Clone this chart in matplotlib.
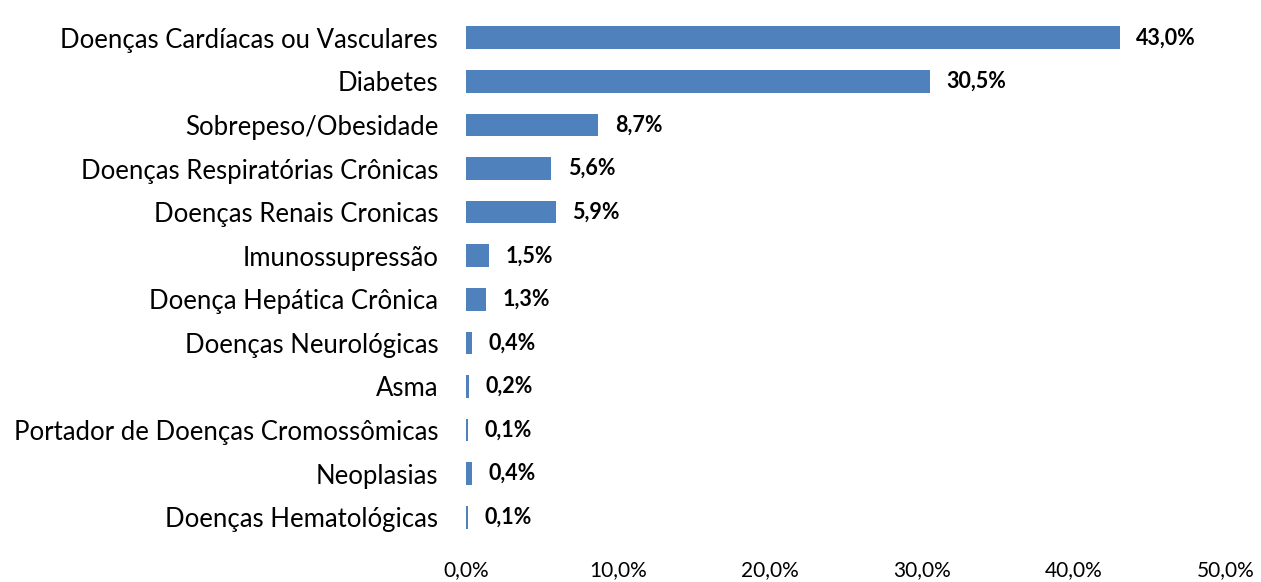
import matplotlib
matplotlib.use("Agg")
import matplotlib.pyplot as plt
from matplotlib.ticker import FuncFormatter

plt.rcParams['font.family'] = ['Lato', 'DejaVu Sans']

# comorbidades (% dos casos)
categorias = [
    "Doenças Cardíacas ou Vasculares",
    "Diabetes",
    "Sobrepeso/Obesidade",
    "Doenças Respiratórias Crônicas",
    "Doenças Renais Cronicas",
    "Imunossupressão",
    "Doença Hepática Crônica",
    "Doenças Neurológicas",
    "Asma",
    "Portador de Doenças Cromossômicas",
    "Neoplasias",
    "Doenças Hematológicas",
]
valores = [43.0, 30.5, 8.7, 5.6, 5.9, 1.5, 1.3, 0.4, 0.2, 0.1, 0.4, 0.1]

fig = plt.figure(figsize=(12.61, 5.82), dpi=100)
ax = fig.add_axes([466 / 1261, 1 - 539 / 582, 760 / 1261, 523 / 582])

y = list(range(len(categorias)))
ax.barh(y, valores, height=0.52, color="#4f81bd")

for yi, v in zip(y, valores):
    ax.text(v + 1.1, yi, f"{v:.1f}%".replace(".", ","), va="center", ha="left",
            fontsize=15.5, fontweight="bold")

ax.set_xlim(0, 50)
ax.set_ylim(len(categorias) - 0.5, -0.5)
ax.set_yticks(y)
ax.set_yticklabels(categorias, fontsize=18.5)
ax.set_xticks([0, 10, 20, 30, 40, 50])
ax.xaxis.set_major_formatter(FuncFormatter(lambda x, p: f"{x:.1f}%".replace(".", ",")))
ax.tick_params(axis="x", labelsize=15, length=0, pad=15)
ax.tick_params(axis="y", length=0, pad=20)
for s in ax.spines.values():
    s.set_visible(False)

fig.savefig("out.png", dpi=100)
